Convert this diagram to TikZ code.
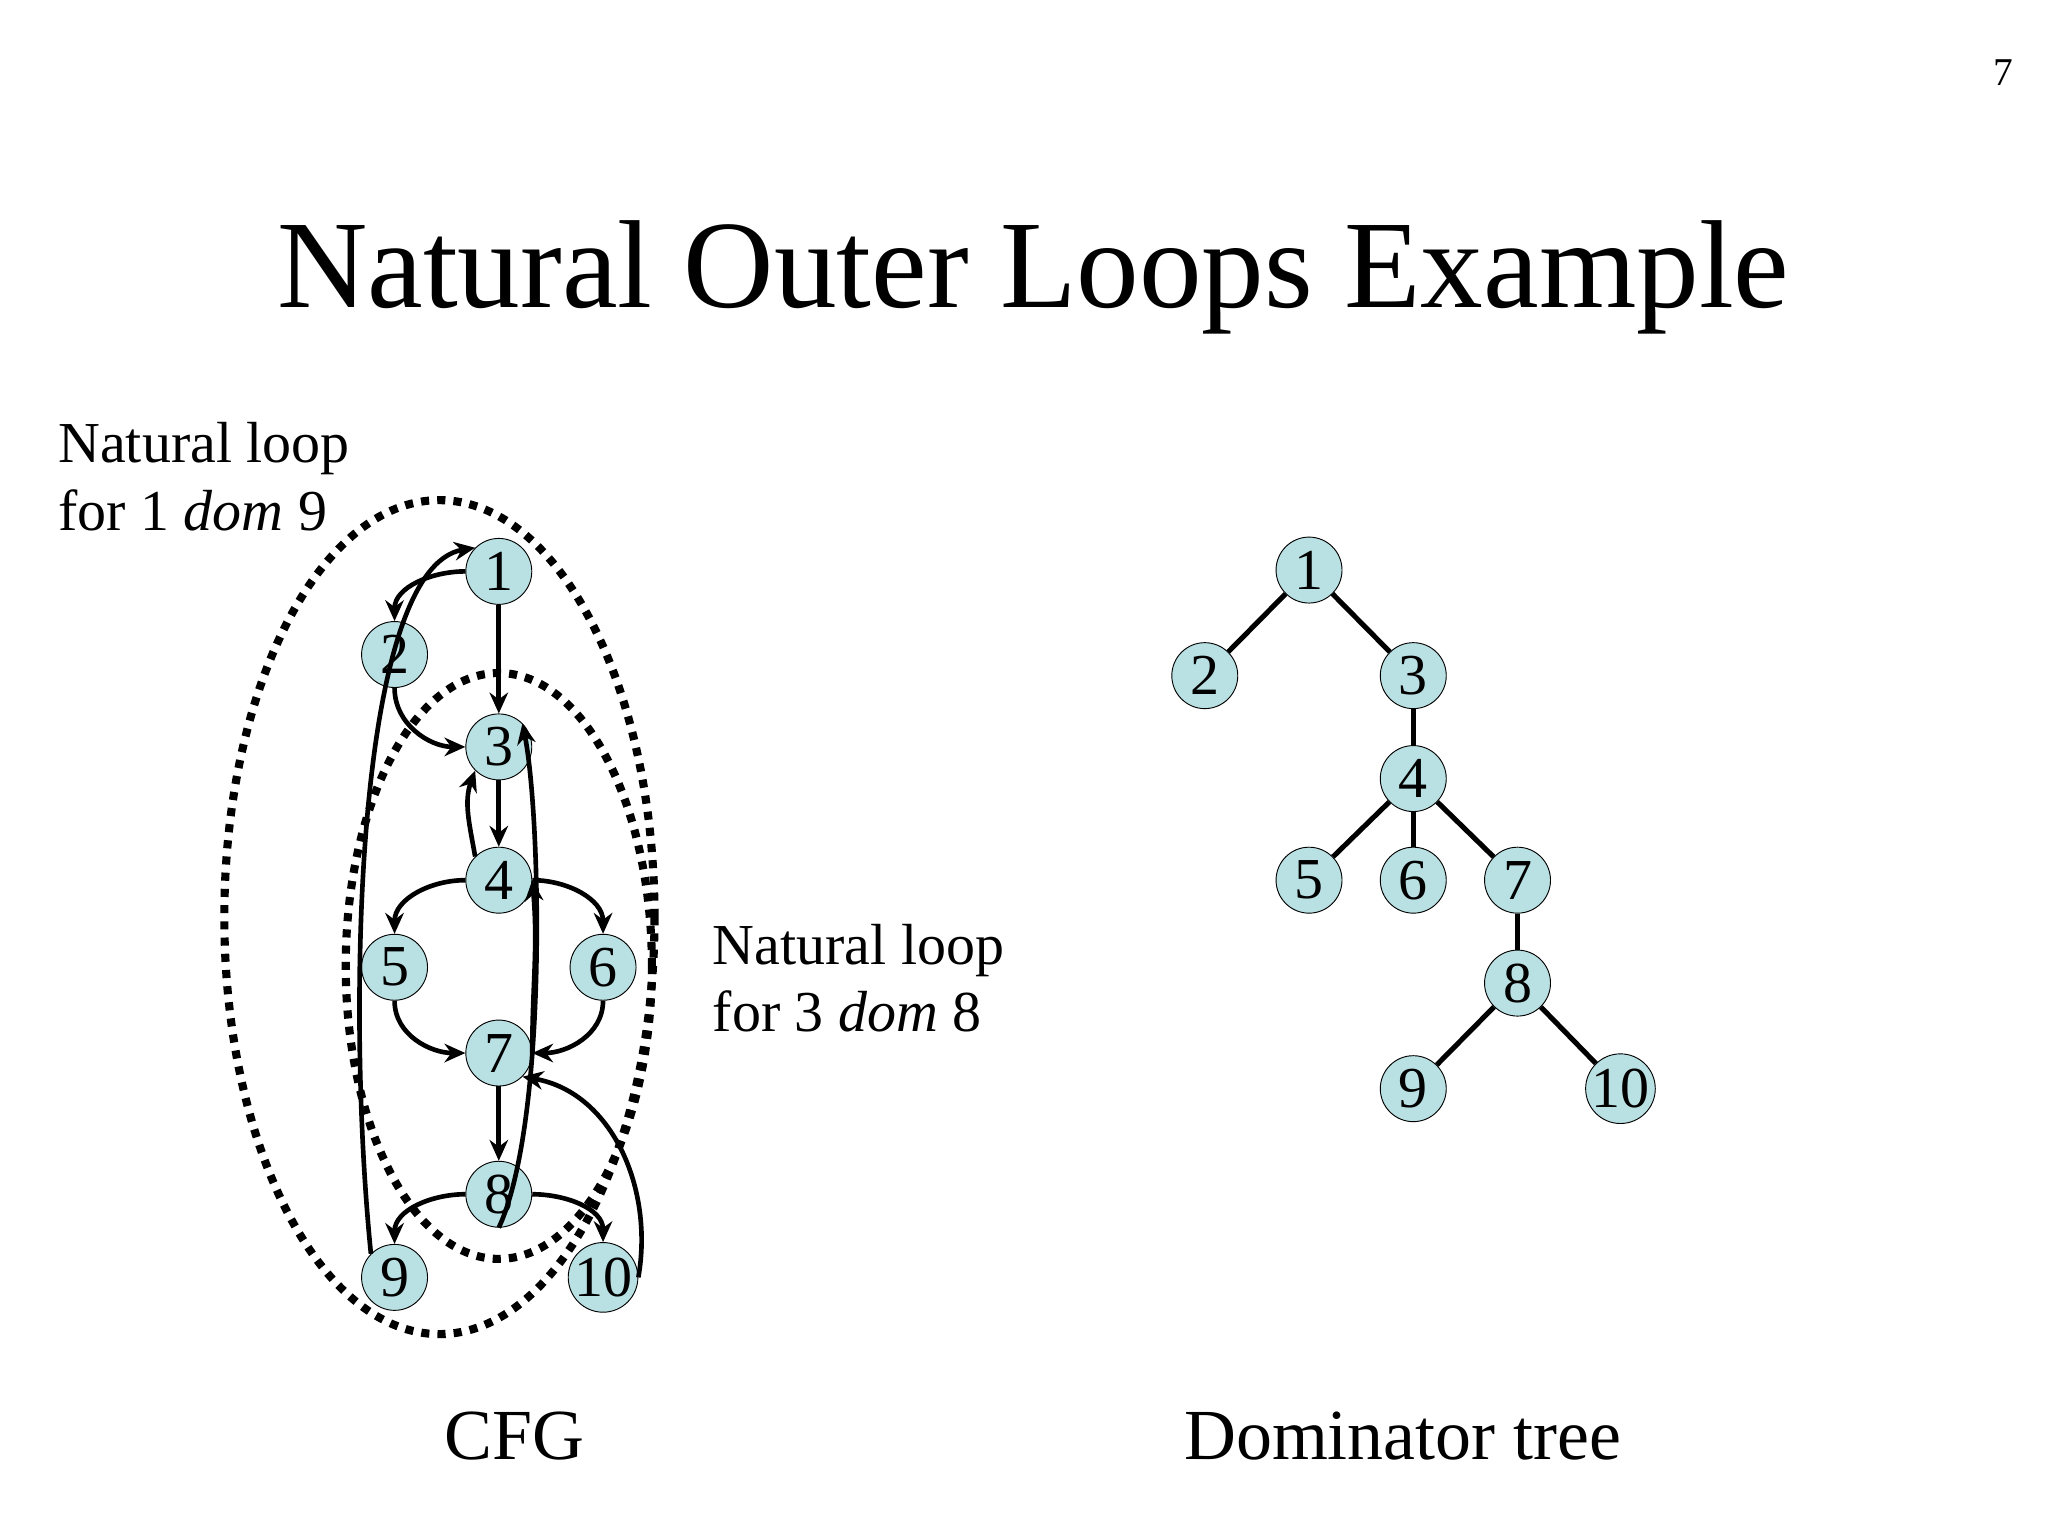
\documentclass[tikz,border=0pt]{standalone}
\usepackage{fontspec}
\setmainfont{Liberation Serif}
\usepackage{tikz}
\usetikzlibrary{arrows.meta,positioning,calc}
\definecolor{nodefill}{RGB}{185,224,226}
\begin{document}
\begin{tikzpicture}[
    x=0.02cm, y=-0.02cm,
    vertex/.style={circle, draw=black, fill=nodefill, inner sep=0pt, minimum size=1cm, font=\fontsize{25}{25}\selectfont},
    edge/.style={-{Stealth[length=9pt,width=8pt]}, line width=2pt},
    tree/.style={line width=2.2pt},
    loop/.style={line width=3.5pt, dash pattern=on 3.5pt off 3.5pt},
    label/.style={font=\fontsize{25}{29}\selectfont, align=left, anchor=north west}
]
\useasboundingbox (0,0) rectangle (1552,1164);

% Title and page number
\node[font=\fontsize{54}{54}\selectfont] (title) at (783,210) {Natural Outer Loops Example};
\node[font=\fontsize{17}{17}\selectfont] (page) at (1518,55) {7};

% Natural loops
\draw[loop] (333,695) ellipse (163 and 316);
\draw[loop] (378,732) ellipse (116 and 222);

% CFG nodes
\node[vertex] (c1) at (378,433) {1};
\node[vertex] (c2) at (299,496) {2};
\node[vertex] (c3) at (378,566) {3};
\node[vertex] (c4) at (378,667) {4};
\node[vertex] (c5) at (299,733) {5};
\node[vertex] (c6) at (457,733) {6};
\node[vertex] (c7) at (378,798) {7};
\node[vertex] (c8) at (378,905) {8};
\node[vertex] (c9) at (299,968) {9};
\node[vertex] (c10) at (457,968) {10};

% CFG edges
\draw[edge] (c1.west) to[out=180,in=90] (c2.north);
\draw[edge] (c1) -- (c3);
\draw[edge] (c2.south) to[out=-90,in=180] (c3.west);
\draw[edge] (c3) -- (c4);
\draw[edge] (c4.north west) to[out=100,in=-110] (c3.south west);
\draw[edge] (c4.west) to[out=180,in=90] (c5.north);
\draw[edge] (c4.east) to[out=0,in=90] (c6.north);
\draw[edge] (c5.south) to[out=-90,in=180] (c7.west);
\draw[edge] (c6.south) to[out=-90,in=0] (c7.east);
\draw[edge] (c7) -- (c8);
\draw[edge] (c8.west) to[out=180,in=90] (c9.north);
\draw[edge] (c8.east) to[out=0,in=90] (c10.north);
\draw[edge] (c8.south) .. controls (415,850) and (410,620) .. (c3.north east);
\draw[edge] (c7.east) to[out=90,in=-85] (c4.east);
\draw[edge] (c9.north west) .. controls (262,760) and (270,430) .. (c1.north west);
\draw[edge] (c10.east) to[out=80,in=-10] (c7.south east);

% Loop labels
\node[label] (l1) at (38,314) {Natural loop\\for 1 \textit{dom} 9};
\node[label] (l2) at (534,694) {Natural loop\\for 3 \textit{dom} 8};

% Dominator tree
\node[vertex] (d1) at (992,432) {1};
\node[vertex] (d2) at (913,512) {2};
\node[vertex] (d3) at (1071,512) {3};
\node[vertex] (d4) at (1071,590) {4};
\node[vertex] (d5) at (992,667) {5};
\node[vertex] (d6) at (1071,667) {6};
\node[vertex] (d7) at (1150,667) {7};
\node[vertex] (d8) at (1150,745) {8};
\node[vertex] (d9) at (1071,825) {9};
\node[vertex] (d10) at (1228,825) {10};
\foreach \a/\b in {d1/d2,d1/d3,d3/d4,d4/d5,d4/d6,d4/d7,d7/d8,d8/d9,d8/d10}
  \draw[tree] (\a) -- (\b);

% Captions
\node[font=\fontsize{31}{31}\selectfont] (cfg) at (390,1088) {CFG};
\node[font=\fontsize{31}{31}\selectfont] (dom) at (1063,1088) {Dominator tree};
\end{tikzpicture}
\end{document}
